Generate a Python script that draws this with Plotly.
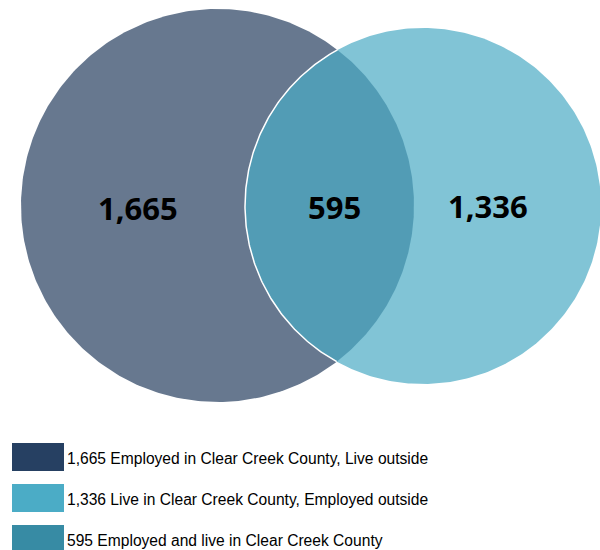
import numpy as np
import plotly.graph_objects as go

# ---- data ----
categories = ["Employed in Clear Creek County, Live outside",
              "Live in Clear Creek County, Employed outside",
              "Employed and live in Clear Creek County"]
values = [1665, 1336, 595]
legend_colors = ["#264062", "#4BACC6", "#378BA4"]

# ---- layout geometry (pixel-like units) ----
W, H = 600, 550
left_c, left_r = (217.5, 205.5), 196.5
right_c, right_r = (423.0, 206.0), 178.0
col_left, col_right, col_lens = "#67788F", "#81C4D6", "#529CB5"

def circle(c, r, n=400):
    t = np.linspace(0, 2 * np.pi, n)
    return c[0] + r * np.cos(t), c[1] + r * np.sin(t)

fig = go.Figure()
x, y = circle(left_c, left_r)
fig.add_trace(go.Scatter(x=x, y=y, fill="toself", fillcolor=col_left, mode="lines",
                         line=dict(width=0, color=col_left), hoverinfo="skip", showlegend=False))
x, y = circle(right_c, right_r)
fig.add_trace(go.Scatter(x=x, y=y, fill="toself", fillcolor=col_right, mode="lines",
                         line=dict(width=0, color=col_right), hoverinfo="skip", showlegend=False))

# lens (intersection)
(x1, y1), (x2, y2) = left_c, right_c
d = np.hypot(x2 - x1, y2 - y1)
a = (left_r**2 - right_r**2 + d**2) / (2 * d)
h = np.sqrt(left_r**2 - a**2)
ang = np.arctan2(y2 - y1, x2 - x1)
phi_l = np.arctan2(h, a)
phi_r = np.arctan2(h, d - a)
tl = np.linspace(ang - phi_l, ang + phi_l, 200)
lx = x1 + left_r * np.cos(tl); ly = y1 + left_r * np.sin(tl)
tr = np.linspace(ang + np.pi - phi_r, ang + np.pi + phi_r, 200)
rx = x2 + right_r * np.cos(tr); ry = y2 + right_r * np.sin(tr)
lens_x = np.concatenate([lx, rx])
lens_y = np.concatenate([ly, ry])
fig.add_trace(go.Scatter(x=lens_x, y=lens_y, fill="toself", fillcolor=col_lens, mode="lines",
                         line=dict(width=0, color=col_lens), hoverinfo="skip", showlegend=False))
# white outline of right circle's left arc
fig.add_trace(go.Scatter(x=rx, y=ry, mode="lines", line=dict(width=1.5, color="white"),
                         hoverinfo="skip", showlegend=False))

# count labels
label_pos = [(138, 208), (488, 206), (334, 207)]
for v, (lxp, lyp) in zip(values, label_pos):
    fig.add_annotation(x=lxp, y=lyp, text=f"<b>{v:,}</b>", showarrow=False,
                       font=dict(family="Open Sans", size=31, color="black"),
                       xanchor="center", yanchor="middle")

# legend
leg_y = [457, 498, 539]
for cat, v, col, yy in zip(categories, values, legend_colors, leg_y):
    fig.add_shape(type="rect", x0=12, x1=64, y0=yy - 14, y1=yy + 14,
                  fillcolor=col, line=dict(width=0), layer="above")
    fig.add_annotation(x=65, y=yy + 1, text=f"{v:,} {cat}", showarrow=False,
                       font=dict(family="Liberation Sans", size=15.6, color="black"),
                       xanchor="left", yanchor="middle")

fig.update_layout(width=W, height=H, margin=dict(l=0, r=0, t=0, b=0),
                  paper_bgcolor="white", plot_bgcolor="white",
                  xaxis=dict(range=[0, W], visible=False, fixedrange=True),
                  yaxis=dict(range=[H, 0], visible=False, fixedrange=True),
                  showlegend=False)
fig.write_html("out.html", config={"displayModeBar": False})
